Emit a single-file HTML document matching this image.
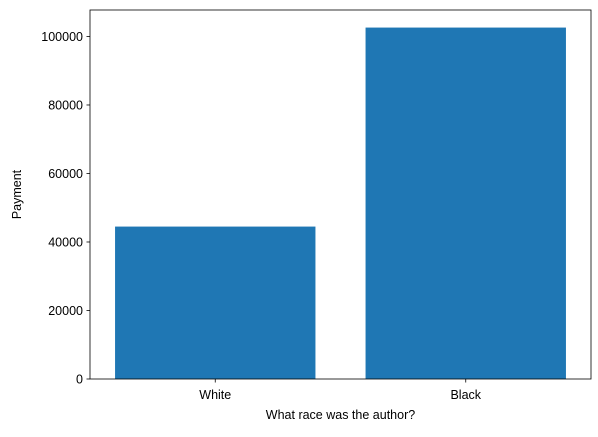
<!DOCTYPE html>
<html><head><meta charset="utf-8"><style>
body{margin:0;background:#fff;font-family:"Liberation Sans","DejaVu Sans",sans-serif;}
</style></head><body>
<svg id="chart" width="598" height="432" xmlns="http://www.w3.org/2000/svg"></svg>
<script>
const categories = ["White", "Black"];
const payments = [44500, 102600];
const yTicks = [0, 20000, 40000, 60000, 80000, 100000];

const svg = document.getElementById('chart');
const NS = 'http://www.w3.org/2000/svg';
const L = 90, R = 591, T = 10, B = 379;
const yMax = Math.max(...payments) * 1.05;
const xMin = -0.5, xMax = categories.length - 1 + 0.5;
const xs = v => L + (v - xMin) / (xMax - xMin) * (R - L);
const ys = v => B - v / yMax * (B - T);
function mk(tag, attrs, parent) {
  const e = document.createElementNS(NS, tag);
  for (const k in attrs) e.setAttribute(k, attrs[k]);
  (parent || svg).appendChild(e);
  return e;
}
payments.forEach((v, i) => {
  const r = mk('rect', {x: xs(i - 0.4), y: ys(v), width: xs(i + 0.4) - xs(i - 0.4), height: B - ys(v), fill: '#1f77b4'});
  
  
});
const frame = mk('rect', {x: L, y: T, width: R - L, height: B - T, fill: 'none', stroke: '#000', 'stroke-width': 0.8});


yTicks.forEach(t => {
  const y = ys(t);
  mk('line', {x1: L - 3.5, x2: L, y1: y, y2: y, stroke: '#000', 'stroke-width': 0.8});
  const tx = mk('text', {x: L - 7, y: y + 4.5, 'text-anchor': 'end', 'font-size': 12.5, fill: '#000'});
  tx.textContent = t;
  
  
});
categories.forEach((c, i) => {
  const x = xs(i);
  mk('line', {x1: x, x2: x, y1: B, y2: B + 3.5, stroke: '#000', 'stroke-width': 0.8});
  const tx = mk('text', {x: x, y: B + 20, 'text-anchor': 'middle', 'font-size': 12.5, fill: '#000'});
  tx.textContent = c;
  
  
});
const xt = mk('text', {x: (L + R) / 2, y: 419, 'text-anchor': 'middle', 'font-size': 12.5, fill: '#000'});
xt.textContent = 'What race was the author?';


const yt = mk('text', {x: 21, y: (T + B) / 2, 'text-anchor': 'middle', 'font-size': 12.5, fill: '#000', transform: 'rotate(-90 21 ' + (T + B) / 2 + ')'});
yt.textContent = 'Payment';


</script>
</body></html>
